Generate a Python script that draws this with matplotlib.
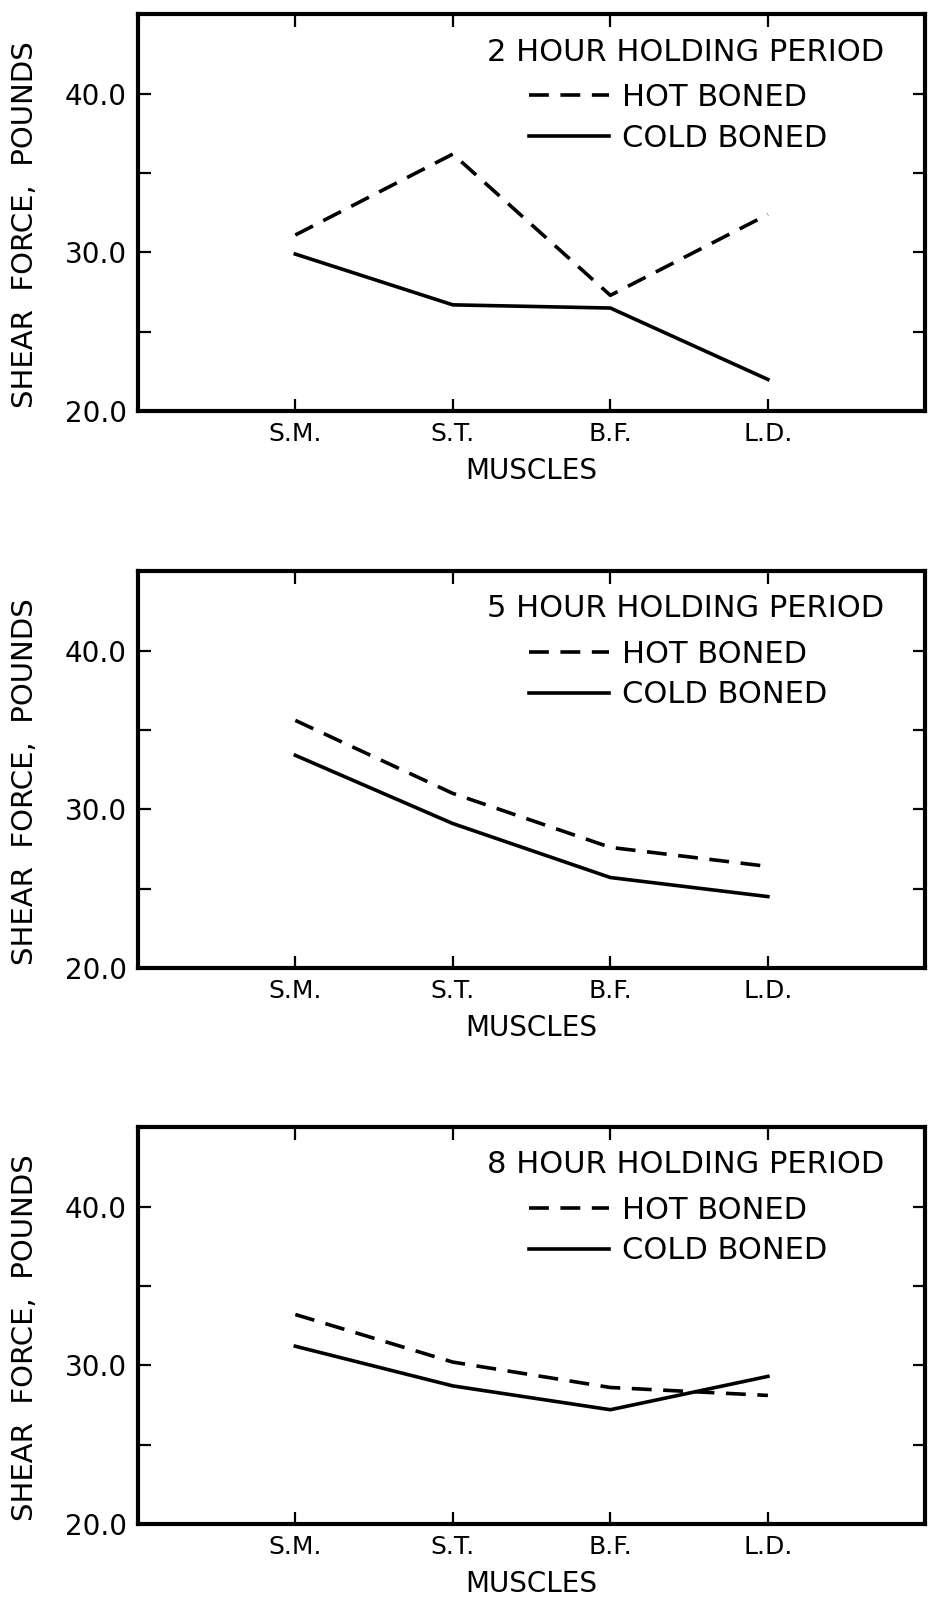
import matplotlib
matplotlib.use('Agg')
import matplotlib.pyplot as plt

# values (shear force, pounds)
muscles = ['S.M.', 'S.T.', 'B.F.', 'L.D.']
periods = ['2 HOUR HOLDING PERIOD', '5 HOUR HOLDING PERIOD', '8 HOUR HOLDING PERIOD']
hot_2 = [31.1, 36.2, 27.3, 32.4]
cold_2 = [29.9, 26.7, 26.5, 22.0]
hot_5 = [35.6, 31.0, 27.6, 26.4]
cold_5 = [33.4, 29.1, 25.7, 24.5]
hot_8 = [33.2, 30.2, 28.6, 28.1]
cold_8 = [31.2, 28.7, 27.2, 29.3]
hot = [hot_2, hot_5, hot_8]
cold = [cold_2, cold_5, cold_8]
ytick_vals = [20, 25, 30, 35, 40]
ytick_labels = ['20.0', '', '30.0', '', '40.0']

plt.rcParams['font.family'] = ['DejaVu Sans']

fig = plt.figure(figsize=(9.31, 16), dpi=100)
bottoms = [0.743, 0.395, 0.0475]
x = [1, 2, 3, 4]

for k in range(3):
    ax = fig.add_axes([0.148, bottoms[k], 0.846, 0.248])
    ax.plot(x, hot[k], color='black', lw=2.6, ls=(0, (5.5, 3.2)), label='HOT BONED')
    ax.plot(x, cold[k], color='black', lw=2.6, ls='-', label='COLD BONED')
    ax.set_xlim(0, 5)
    ax.set_ylim(20, 45)
    ax.set_xticks(x)
    ax.set_xticklabels(muscles, fontsize=18)
    ax.set_yticks(ytick_vals)
    ax.set_yticklabels(ytick_labels, fontsize=20)
    ax.tick_params(direction='in', length=9, width=1.6, top=True, right=True, pad=8)
    for s in ax.spines.values():
        s.set_linewidth(3)
    ax.set_xlabel('MUSCLES', fontsize=20, labelpad=8)
    ax.set_ylabel('SHEAR  FORCE,  POUNDS', fontsize=21)
    ax.yaxis.set_label_coords(-0.125, 0.47)
    ax.text(0.444, 0.905, periods[k], transform=ax.transAxes, fontsize=22,
            va='center', ha='left')
    ax.legend(loc='upper left', bbox_to_anchor=(0.497, 0.827), frameon=False,
              fontsize=22, handlelength=2.6, handletextpad=0.45, borderpad=0,
              borderaxespad=0, labelspacing=0.38)

fig.savefig('out.png', dpi=100)
